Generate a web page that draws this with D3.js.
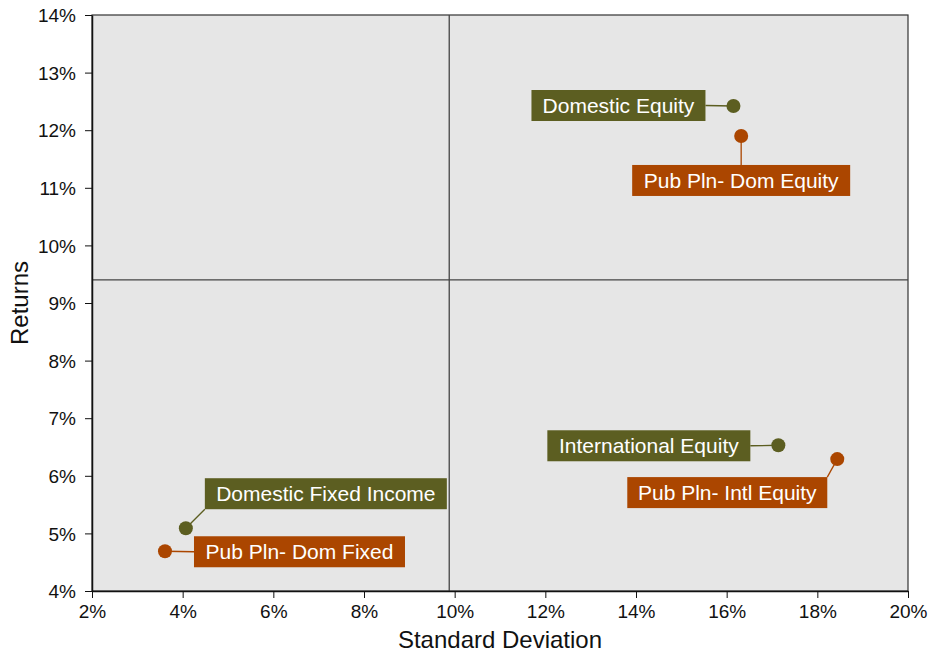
<!DOCTYPE html>
<html>
<head>
<meta charset="utf-8">
<script src="https://cdn.jsdelivr.net/npm/d3@7"></script>
<style>
  html, body { margin: 0; padding: 0; background: #fff; }
  svg { display: block; font-family: Arial, "Liberation Sans", sans-serif; }
</style>
</head>
<body>
<svg id="chart" width="928" height="652"></svg>
<script>
// Risk / return data (percent)
const assetNames = ["Domestic Equity", "Pub Pln- Dom Equity", "International Equity",
                    "Pub Pln- Intl Equity", "Domestic Fixed Income", "Pub Pln- Dom Fixed"];
const stdDev  = [16.15, 16.32, 17.14, 18.44, 4.07, 3.61];
const returns = [12.42, 11.90, 6.53, 6.29, 5.09, 4.69];
const group   = ["index", "plan", "index", "plan", "index", "plan"];

// Quadrant divider values (percent)
const dividerX = [9.88];
const dividerY = [9.40];

const xTicks = [2, 4, 6, 8, 10, 12, 14, 16, 18, 20];
const yTicks = [4, 5, 6, 7, 8, 9, 10, 11, 12, 13, 14];

// Presentation
const colors = { index: "#5c5e21", plan: "#ab4600" };
// label box placement relative to the point: box left/top offset, box width
const labelLayout = [
  { dx: -202, dy: -16, w: 174, anchor: "right" },
  { dx: -109, dy: 29,  w: 218, anchor: "top" },
  { dx: -231, dy: -15, w: 203, anchor: "right" },
  { dx: -210, dy: 18,  w: 200, anchor: "topright" },
  { dx: 19,   dy: -50, w: 242, anchor: "bottomleft" },
  { dx: 29,   dy: -15, w: 211, anchor: "left" }
];

const svg = d3.select("#chart");

const x = d3.scaleLinear().domain([2, 20]).range([92, 908]);
const y = d3.scaleLinear().domain([4, 14]).range([591, 15]);

// plot background
svg.append("rect")
  .attr("x", x(2)).attr("y", y(14))
  .attr("width", x(20) - x(2)).attr("height", y(4) - y(14))
  .attr("fill", "#e6e6e6")
  .attr("stroke", "#333").attr("stroke-width", 1.2);

// quadrant dividers
svg.selectAll("line.vdiv").data(dividerX).join("line")
  .attr("x1", d => x(d)).attr("x2", d => x(d))
  .attr("y1", y(14)).attr("y2", y(4))
  .attr("stroke", "#444").attr("stroke-width", 1.3);
svg.selectAll("line.hdiv").data(dividerY).join("line")
  .attr("y1", d => y(d)).attr("y2", d => y(d))
  .attr("x1", x(2)).attr("x2", x(20))
  .attr("stroke", "#444").attr("stroke-width", 1.3);

// axes
const xAxis = d3.axisBottom(x).tickValues(xTicks).tickFormat(d => d + "%").tickSize(7).tickSizeOuter(0);
const yAxis = d3.axisLeft(y).tickValues(yTicks).tickFormat(d => d + "%").tickSize(7).tickSizeOuter(0);

const gx = svg.append("g").attr("transform", `translate(0,${y(4)})`).call(xAxis);
const gy = svg.append("g").attr("transform", `translate(${x(2)},0)`).call(yAxis);
[gx, gy].forEach(g => {
  g.select(".domain").attr("stroke", "#111").attr("stroke-width", 1.5);
  g.selectAll(".tick line").attr("stroke", "#111").attr("stroke-width", 1);
  g.selectAll(".tick text").attr("fill", "#111").style("font-size", "19px")
    .style("font-family", "Arial, 'Liberation Sans', sans-serif");
});
gx.selectAll(".tick text").attr("y", 12).attr("dy", "0.8em");
gy.selectAll(".tick text").attr("x", -16).attr("dy", "0.35em");

// axis titles
svg.append("text")
  .attr("x", x(11)).attr("y", 648)
  .attr("text-anchor", "middle").style("font-size", "24px").attr("fill", "#111")
  .text("Standard Deviation");
svg.append("text")
  .attr("transform", `translate(28,${(y(4) + y(14)) / 2}) rotate(-90)`)
  .attr("text-anchor", "middle").style("font-size", "24px").attr("fill", "#111")
  .text("Returns");

// labels with connectors, then points
const boxH = 31;
const items = assetNames.map((name, i) => ({
  name, px: x(stdDev[i]), py: y(returns[i]), g: group[i], L: labelLayout[i]
}));

items.forEach(d => {
  const bx = d.px + d.L.dx, by = d.py + d.L.dy, bw = d.L.w;
  let ex, ey;
  if (d.L.anchor === "right") { ex = bx + bw; ey = by + boxH / 2; }
  else if (d.L.anchor === "left") { ex = bx; ey = by + boxH / 2; }
  else if (d.L.anchor === "top") { ex = d.px; ey = by; }
  else if (d.L.anchor === "topright") { ex = bx + bw; ey = by; }
  else { ex = bx; ey = by + boxH; }
  svg.append("line")
    .attr("x1", d.px).attr("y1", d.py).attr("x2", ex).attr("y2", ey)
    .attr("stroke", colors[d.g]).attr("stroke-width", 1.3);
  svg.append("rect")
    .attr("x", bx).attr("y", by).attr("width", bw).attr("height", boxH)
    .attr("fill", colors[d.g]);
  svg.append("text")
    .attr("x", bx + bw / 2).attr("y", by + boxH / 2)
    .attr("dy", "0.36em").attr("text-anchor", "middle")
    .attr("fill", "#fff").style("font-size", "21px")
    .text(d.name);
});

svg.selectAll("circle.pt").data(items).join("circle")
  .attr("class", "pt")
  .attr("cx", d => d.px).attr("cy", d => d.py).attr("r", 7)
  .attr("fill", d => colors[d.g]);
</script>
</body>
</html>
